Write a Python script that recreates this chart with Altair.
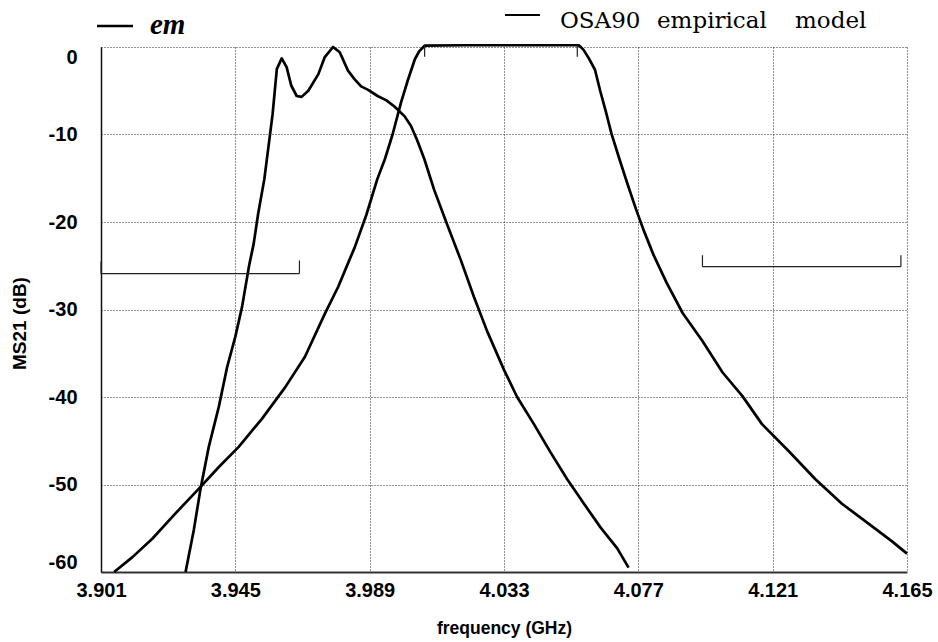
import altair as alt
import pandas as pd

# ---- data ----
em_freq = [3.9287, 3.9314, 3.9336, 3.9363, 3.9396, 3.9423, 3.9450, 3.9472, 3.9495, 3.9510,
           3.9525, 3.9545, 3.9572, 3.9586, 3.9602, 3.9618, 3.9633, 3.9651, 3.9667, 3.9689,
           3.9722, 3.9743, 3.9770, 3.9792, 3.9819, 3.9841, 3.9862, 3.9885, 3.9916, 3.9945,
           3.9971, 4.0004, 4.0025, 4.0045, 4.0069, 4.0101, 4.0145, 4.0188, 4.0232, 4.0275,
           4.0330, 4.0373, 4.0428, 4.0482, 4.0537, 4.0592, 4.0646, 4.0701, 4.0738]
em_db = [-60.0, -55.2, -50.5, -45.7, -41.1, -36.6, -33.1, -29.7, -25.0, -22.5,
         -19.0, -15.1, -7.7, -2.5, -1.3, -2.3, -4.4, -5.6, -5.7, -5.0,
         -3.1, -1.15, 0.0, -0.6, -2.7, -3.7, -4.5, -4.9, -5.6, -6.1,
         -6.8, -7.9, -9.0, -10.6, -12.8, -16.3, -20.4, -24.3, -28.6, -32.5,
         -36.9, -40.0, -43.1, -46.3, -49.4, -52.2, -54.9, -57.3, -59.5]

osa_freq = [3.9053, 3.9113, 3.9178, 3.9254, 3.9330, 3.9396, 3.9461, 3.9537, 3.9613, 3.9678,
            3.9743, 3.9787, 3.9824, 3.9841, 3.9879, 3.9915, 3.9940, 3.9965, 3.9993, 4.0015,
            4.0038, 4.0052, 4.0070, 4.0200, 4.0350, 4.0500, 4.0575, 4.0590, 4.0608, 4.0628,
            4.0645, 4.0663, 4.0682, 4.0708, 4.0734, 4.0762, 4.0787, 4.0819, 4.0862, 4.0915,
            4.0980, 4.1046, 4.1111, 4.1175, 4.1263, 4.1350, 4.1437, 4.1525, 4.1601, 4.1650]
osa_db = [-60.0, -58.3, -56.2, -53.3, -50.5, -48.0, -45.7, -42.5, -38.9, -35.4,
          -30.5, -27.4, -24.3, -22.9, -19.2, -15.1, -12.8, -10.0, -6.3, -3.8,
          -1.4, -0.5, 0.15, 0.2, 0.2, 0.2, 0.2, -0.3, -1.3, -2.6,
          -5.0, -7.3, -9.9, -12.8, -15.6, -18.5, -20.9, -23.7, -26.9, -30.4,
          -33.6, -37.2, -39.9, -43.1, -46.2, -49.4, -52.2, -54.5, -56.5, -57.9]

x_ticks = [3.901, 3.945, 3.989, 4.033, 4.077, 4.121, 4.165]
y_ticks = [0, -10, -20, -30, -40, -50, -60]

# annotation segments (brackets and passband marks), in data units
seg_f1 = [3.901, 3.901, 3.966, 4.098, 4.098, 4.163, 4.0070, 4.0570]
seg_f2 = [3.966, 3.901, 3.966, 4.163, 4.098, 4.163, 4.0070, 4.0570]
seg_d1 = [-25.9, -25.9, -25.9, -25.1, -25.1, -25.1, 0.2, 0.2]
seg_d2 = [-25.9, -24.5, -24.4, -25.1, -23.8, -23.8, -1.1, -1.1]

legend_em = ["em"]
legend_osa_words = ["OSA90", "empirical", "model"]

X_TITLE = "frequency (GHz)"
Y_TITLE = "MS21 (dB)"

# ---- tables ----
curves = pd.concat([
    pd.DataFrame({"freq": em_freq, "db": em_db, "series": "em"}),
    pd.DataFrame({"freq": osa_freq, "db": osa_db, "series": "OSA90 empirical model"}),
], ignore_index=True)
segs_df = pd.DataFrame({"f1": seg_f1, "f2": seg_f2, "d1": seg_d1, "d2": seg_d2})

x_scale = alt.Scale(domain=[3.901, 4.165], nice=False, zero=False)
y_scale = alt.Scale(domain=[-60, 0], nice=False, zero=False)

x_axis = alt.Axis(values=x_ticks, format=".3f", title=X_TITLE,
                  labelPadding=8, labelFlush=False, domainWidth=2, domainColor="#333",
                  titleFontSize=17.5, titleY=61, titleBaseline="alphabetic")
y_axis = alt.Axis(values=y_ticks, labelExpr="toString(datum.value)", title=Y_TITLE,
                  labelPadding=24, labelFlush=True, domainWidth=1.5, domainColor="#111",
                  titleFontSize=19, titleAngle=270, titleX=-76, titleY=276,
                  titleAlign="center", titleBaseline="alphabetic")

lines = alt.Chart(curves).mark_line(color="black", strokeWidth=2.7, strokeJoin="round").encode(
    x=alt.X("freq:Q", scale=x_scale, axis=x_axis),
    y=alt.Y("db:Q", scale=y_scale, axis=y_axis),
    detail="series:N",
)

segs = alt.Chart(segs_df).mark_rule(color="#222", strokeWidth=1.2).encode(
    x=alt.X("f1:Q", scale=x_scale, axis=x_axis),
    x2="f2:Q",
    y=alt.Y("d1:Q", scale=y_scale, axis=y_axis),
    y2="d2:Q",
)

one = pd.DataFrame({"k": [0]})
em_dash = alt.Chart(one).mark_rule(color="black", strokeWidth=2.5).encode(
    x=alt.value(-4), x2=alt.value(32), y=alt.value(-21))
em_text = alt.Chart(pd.DataFrame({"label": legend_em})).mark_text(
    font="Liberation Serif", fontStyle="italic", fontWeight="bold", fontSize=29,
    align="left", baseline="alphabetic", color="black").encode(
    text="label:N", x=alt.value(49), y=alt.value(-13))

osa_dash = alt.Chart(one).mark_rule(color="black", strokeWidth=2).encode(
    x=alt.value(404), x2=alt.value(439), y=alt.value(-32))
word_x = [459, 556, 694]
osa_texts = [
    alt.Chart(pd.DataFrame({"label": [w]})).mark_text(
        font="DejaVu Serif", fontSize=23, align="left", baseline="alphabetic",
        color="black").encode(text="label:N", x=alt.value(px), y=alt.value(-19))
    for w, px in zip(legend_osa_words, word_x)
]

chart = alt.layer(lines, segs, em_dash, em_text, osa_dash, *osa_texts).properties(
    width=806, height=525,
    autosize=alt.AutoSizeParams(type="none"),
    padding={"left": 101, "top": 47, "right": 31, "bottom": 70},
    background="white",
).configure_view(stroke=None).configure_axis(
    ticks=False,
    labelFont="Liberation Sans", labelFontWeight="bold", labelFontSize=20, labelColor="black",
    labelOverlap=False,
    titleFont="Liberation Sans", titleFontWeight="bold", titleColor="black",
    grid=True, gridColor="black", gridDash=[1, 2], gridWidth=1, gridOpacity=0.85,
)

chart.save("out.html", embed_options={"renderer": "svg", "actions": False})
